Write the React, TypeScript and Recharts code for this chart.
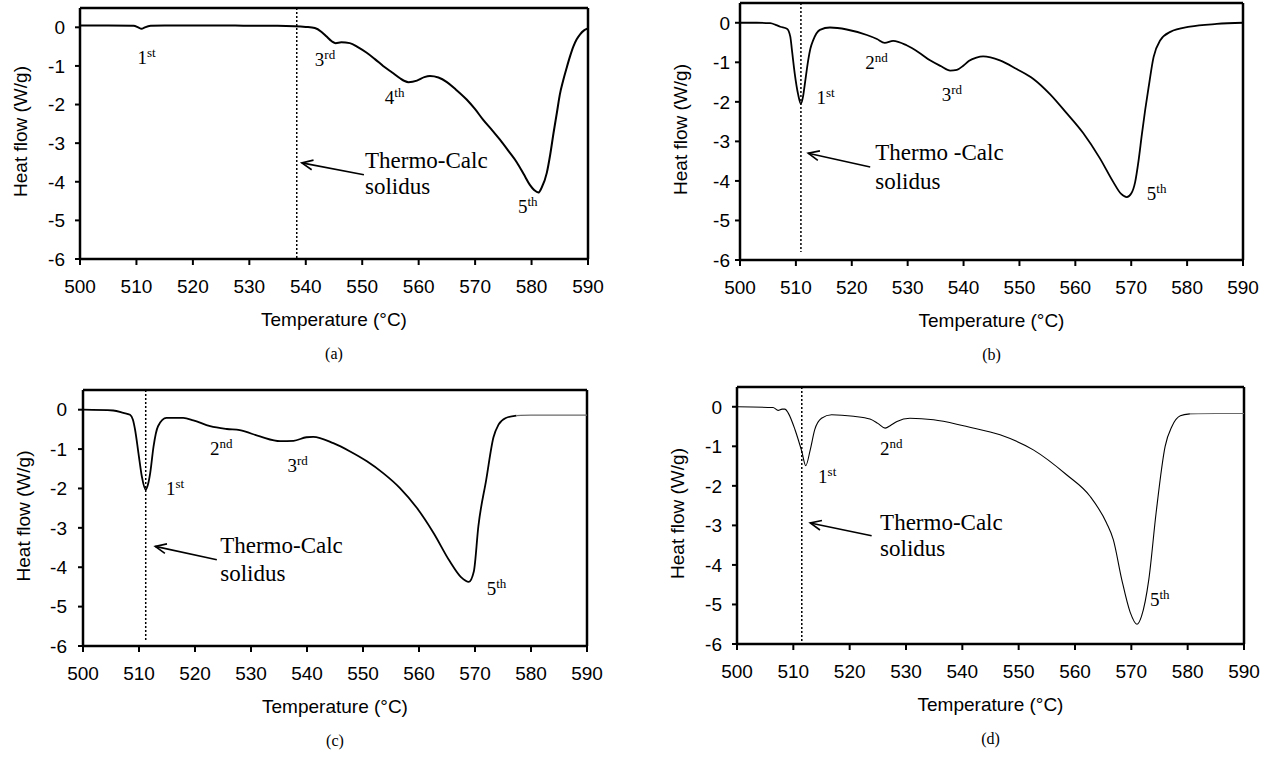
import React from 'react';
import { LineChart, Line, XAxis, YAxis, ReferenceLine, ReferenceDot } from 'recharts';

const tempTicks = [500, 510, 520, 530, 540, 550, 560, 570, 580, 590];
const flowTicks = [-6, -5, -4, -3, -2, -1, 0];

// Panel (a)
const tempA = [500, 505, 509.5, 510.3, 510.9, 511.5, 512.5, 515, 520, 525, 530, 535, 538, 540, 541.6, 542.8, 543.7, 544.6, 545.3, 546.3, 547.8, 549.3, 550.8, 552.3, 553.7, 555.3, 556.7, 557.5, 558.2, 559.7, 561, 562, 563.5, 565, 566.5, 568.5, 570, 571.4, 573, 574.4, 576, 577.4, 578.6, 579.7, 580.5, 581.2, 581.8, 582.7, 583.3, 583.9, 584.5, 585, 585.6, 586.2, 586.8, 587.4, 588, 588.6, 589.3, 590];
const flowA = [0.05, 0.05, 0.04, 0.0, -0.04, 0.0, 0.04, 0.05, 0.05, 0.05, 0.04, 0.04, 0.03, 0.01, -0.02, -0.12, -0.24, -0.36, -0.41, -0.39, -0.41, -0.52, -0.66, -0.83, -1.0, -1.17, -1.32, -1.39, -1.42, -1.38, -1.29, -1.26, -1.3, -1.42, -1.6, -1.87, -2.12, -2.39, -2.66, -2.91, -3.22, -3.5, -3.8, -4.08, -4.22, -4.28, -4.15, -3.77, -3.3, -2.73, -2.2, -1.75, -1.38, -1.06, -0.76, -0.5, -0.31, -0.18, -0.08, -0.03];

// Panel (b)
const tempB = [500, 503, 505.4, 506.5, 507.2, 508.4, 509, 509.3, 509.8, 510.4, 510.9, 511.3, 511.6, 512.2, 512.6, 513.1, 514.3, 516.1, 519.1, 522.7, 524.5, 525.9, 527.4, 529.8, 532, 534, 536, 537.6, 538.8, 540, 541, 542.3, 543.5, 546.5, 549.5, 552.5, 555.5, 558.4, 561.4, 564.4, 566.8, 568.2, 569.2, 570, 570.7, 571.3, 571.9, 572.5, 573.1, 574, 575.2, 577, 580.5, 585.3, 590];
const flowB = [0, 0, -0.01, -0.06, -0.1, -0.15, -0.35, -0.7, -1.29, -1.81, -2.05, -1.85, -1.55, -0.95, -0.65, -0.44, -0.18, -0.12, -0.17, -0.31, -0.41, -0.51, -0.46, -0.57, -0.75, -0.95, -1.1, -1.21, -1.19, -1.08, -0.96, -0.88, -0.85, -0.95, -1.17, -1.42, -1.81, -2.28, -2.79, -3.43, -4.03, -4.33, -4.41, -4.32, -4.03, -3.5, -2.83, -2.2, -1.64, -0.87, -0.44, -0.23, -0.1, -0.03, 0.0];

// Panel (c) main trace and flat grey tail
const tempC = [500, 505.4, 507.2, 508.4, 508.9, 509.3, 509.9, 510.5, 511.2, 511.6, 512, 512.6, 513.4, 514.9, 517.9, 519.7, 522.7, 525.7, 528, 531.6, 535.2, 537.6, 539.9, 541.1, 544.7, 547.7, 550.7, 553.6, 556.6, 559.6, 562.6, 565.5, 567.5, 568.9, 569.8, 570.6, 572, 573.3, 574.2, 575.5, 577.4];
const flowC = [0, -0.02, -0.08, -0.13, -0.25, -0.51, -1.1, -1.69, -2.03, -1.9, -1.61, -0.93, -0.42, -0.21, -0.21, -0.27, -0.42, -0.49, -0.52, -0.68, -0.8, -0.79, -0.7, -0.69, -0.85, -1.06, -1.31, -1.61, -1.99, -2.49, -3.13, -3.85, -4.25, -4.37, -4.1, -2.96, -1.78, -0.7, -0.38, -0.21, -0.15];
const tailTempC = [577.4, 580, 585, 590];
const tailFlowC = [-0.15, -0.14, -0.14, -0.14];

// Panel (d) main trace and flat grey tail
const tempD = [500, 506.4, 507.3, 508, 508.5, 509.1, 510.3, 511.5, 512.2, 513, 513.8, 515, 516.8, 520.7, 523.6, 525, 526.3, 527.3, 528.4, 530.7, 534.9, 539, 540.8, 546.7, 552.6, 558.5, 562.7, 565.6, 566.8, 568.3, 569.8, 571, 571.8, 573.1, 574.4, 576, 577.2, 578.7, 580.4];
const flowD = [0, -0.02, -0.09, -0.06, -0.06, -0.16, -0.58, -1.13, -1.49, -1.09, -0.58, -0.29, -0.2, -0.24, -0.31, -0.42, -0.54, -0.47, -0.37, -0.29, -0.33, -0.44, -0.5, -0.71, -1.09, -1.72, -2.27, -2.94, -3.36, -4.37, -5.2, -5.5, -5.3, -4.37, -2.68, -1.0, -0.5, -0.23, -0.18];
const tailTempD = [580.4, 585, 590];
const tailFlowD = [-0.18, -0.17, -0.17];

// Peak annotations (temperature, heat flow)
const peaksA = [
  { main: '1', sup: 'st', t: 510.2, v: -0.96 },
  { main: '3', sup: 'rd', t: 541.6, v: -1.0 },
  { main: '4', sup: 'th', t: 554.0, v: -1.99 },
  { main: '5', sup: 'th', t: 577.6, v: -4.8 },
];
const peaksB = [
  { main: '1', sup: 'st', t: 513.7, v: -2.06 },
  { main: '2', sup: 'nd', t: 522.4, v: -1.17 },
  { main: '3', sup: 'rd', t: 536.1, v: -1.98 },
  { main: '5', sup: 'th', t: 572.8, v: -4.48 },
];
const peaksC = [
  { main: '1', sup: 'st', t: 514.8, v: -2.16 },
  { main: '2', sup: 'nd', t: 522.7, v: -1.14 },
  { main: '3', sup: 'rd', t: 536.5, v: -1.57 },
  { main: '5', sup: 'th', t: 572.1, v: -4.7 },
];
const peaksD = [
  { main: '1', sup: 'st', t: 514.4, v: -1.93 },
  { main: '2', sup: 'nd', t: 525.4, v: -1.21 },
  { main: '5', sup: 'th', t: 573.3, v: -5.05 },
];

const SANS = '"Liberation Sans", Arial, Helvetica, sans-serif';
const SERIF = '"Liberation Serif", "Times New Roman", Times, serif';

type Cfg = {
  left: number; top: number; w: number; h: number;
  margin: { top: number; right: number; bottom: number; left: number };
  temps: number[]; flows: number[]; tailTemps: number[]; tailFlows: number[];
  solidusT: number; solidusBottom: number;
  peaks: { main: string; sup: string; t: number; v: number }[];
  calcText: string; calcT: number; calcV: number; solidusV: number;
  arrowHead: { t: number; v: number }; arrowTail: { t: number; v: number };
  caption: string; lineWidth: number; yTickMargin: number;
};

const panels: Cfg[] = [
  {
    left: 0, top: 0, w: 640, h: 380,
    margin: { top: 8, right: 52, bottom: 81, left: 20 },
    temps: tempA, flows: flowA, tailTemps: [], tailFlows: [], solidusT: 538.4, solidusBottom: -6,
    peaks: peaksA, calcText: 'Thermo-Calc', calcT: 550.5, calcV: -3.64, solidusV: -4.31,
    arrowHead: { t: 539.3, v: -3.51 }, arrowTail: { t: 550.3, v: -3.82 },
    caption: '(a)', lineWidth: 2, yTickMargin: 10,
  },
  {
    left: 640, top: 0, w: 631, h: 380,
    margin: { top: 3, right: 28, bottom: 80, left: 40 },
    temps: tempB, flows: flowB, tailTemps: [], tailFlows: [], solidusT: 510.9, solidusBottom: -5.8,
    peaks: peaksB, calcText: 'Thermo -Calc', calcT: 524.2, calcV: -3.47, solidusV: -4.2,
    arrowHead: { t: 512.2, v: -3.3 }, arrowTail: { t: 523.3, v: -3.65 },
    caption: '(b)', lineWidth: 1.8, yTickMargin: 5,
  },
  {
    left: 0, top: 380, w: 640, h: 377,
    margin: { top: 10, right: 53, bottom: 71, left: 23 },
    temps: tempC, flows: flowC, tailTemps: tailTempC, tailFlows: tailFlowC, solidusT: 511.2, solidusBottom: -5.9,
    peaks: peaksC, calcText: 'Thermo-Calc', calcT: 524.5, calcV: -3.64, solidusV: -4.34,
    arrowHead: { t: 512.9, v: -3.47 }, arrowTail: { t: 523.9, v: -3.81 },
    caption: '(c)', lineWidth: 1.8, yTickMargin: 11,
  },
  {
    left: 640, top: 380, w: 631, h: 377,
    margin: { top: 7, right: 27, bottom: 73, left: 37 },
    temps: tempD, flows: flowD, tailTemps: tailTempD, tailFlows: tailFlowD, solidusT: 511.5, solidusBottom: -6,
    peaks: peaksD, calcText: 'Thermo-Calc', calcT: 525.4, calcV: -3.11, solidusV: -3.78,
    arrowHead: { t: 513, v: -2.94 }, arrowTail: { t: 523.9, v: -3.26 },
    caption: '(d)', lineWidth: 1.1, yTickMargin: 10,
  },
];

const arrowShape = (p: any) => {
  const { x1, y1, x2, y2 } = p;
  let hx = x1, hy = y1, tx = x2, ty = y2;
  if (x2 < x1) { hx = x2; hy = y2; tx = x1; ty = y1; }
  const ang = Math.atan2(ty - hy, tx - hx);
  const L = 12, a = 0.42;
  const p1x = hx + L * Math.cos(ang + a), p1y = hy + L * Math.sin(ang + a);
  const p2x = hx + L * Math.cos(ang - a), p2y = hy + L * Math.sin(ang - a);
  return (
    <g>
      <line x1={tx} y1={ty} x2={hx} y2={hy} stroke="#000" strokeWidth={1.6} />
      <polyline points={`${p1x},${p1y} ${hx},${hy} ${p2x},${p2y}`} fill="none" stroke="#000" strokeWidth={1.6} />
    </g>
  );
};

const Panel = ({ cfg }: { cfg: Cfg }) => {
  const data: { t: number; v?: number; tail?: number }[] = cfg.temps.map((t, i) => ({ t, v: cfg.flows[i] }));
  cfg.tailTemps.forEach((t, i) => {
    const existing = data.find((d) => d.t === t);
    if (existing) existing.tail = cfg.tailFlows[i];
    else data.push({ t, tail: cfg.tailFlows[i] });
  });
  const xLabel = (props: any) => {
    const vb = props.viewBox || props;
    const cx = vb.x + vb.width / 2;
    return (
      <g>
        <text x={cx} y={vb.y + 67} textAnchor="middle" fontFamily={SANS} fontSize={19} fill="#000">Temperature (°C)</text>
        <text x={cx} y={vb.y + 100} textAnchor="middle" fontFamily={SERIF} fontSize={16} fill="#000">{cfg.caption}</text>
      </g>
    );
  };
  const yLabel = (props: any) => {
    const vb = props.viewBox || props;
    const px = vb.x + vb.width - 53;
    const py = vb.y + vb.height / 2 - 2;
    return (
      <text x={px} y={py} transform={`rotate(-90 ${px} ${py})`} textAnchor="middle" fontFamily={SANS} fontSize={19} fill="#000">Heat flow (W/g)</text>
    );
  };
  const peakShape = (pk: { main: string; sup: string }) => (p: any) => (
    <text x={p.cx} y={p.cy} fontFamily={SERIF} fontSize={19} fill="#000">
      {pk.main}
      <tspan dy={-7} fontSize={13}>{pk.sup}</tspan>
    </text>
  );
  const textShape = (s: string) => (p: any) => (
    <text x={p.cx} y={p.cy} fontFamily={SERIF} fontSize={23} fill="#000">{s}</text>
  );
  return (
    <div style={{ position: 'absolute', left: cfg.left, top: cfg.top }}>
      <LineChart width={cfg.w} height={cfg.h} data={data} margin={cfg.margin}>
        <XAxis
          dataKey="t" type="number" domain={[500, 590]} ticks={tempTicks} interval={0}
          allowDataOverflow height={40} tickSize={6} tickMargin={15}
          tick={{ fill: '#000', fontSize: 19, fontFamily: SANS }}
          axisLine={{ stroke: '#000', strokeWidth: 2.5 }}
          tickLine={{ stroke: '#000', strokeWidth: 2 }}
          label={xLabel}
        />
        <YAxis
          type="number" domain={[-6, 0.5]} ticks={flowTicks} interval={0}
          allowDataOverflow width={60} tickSize={5} tickMargin={cfg.yTickMargin}
          tick={{ fill: '#000', fontSize: 19, fontFamily: SANS }}
          axisLine={{ stroke: '#000', strokeWidth: 2.5 }}
          tickLine={{ stroke: '#000', strokeWidth: 2 }}
          label={yLabel}
        />
        <ReferenceLine y={0.5} stroke="#000" strokeWidth={2.5} />
        <ReferenceLine x={590} stroke="#000" strokeWidth={2.5} />
        <ReferenceLine
          segment={[{ x: cfg.solidusT, y: 0.5 }, { x: cfg.solidusT, y: cfg.solidusBottom }]}
          stroke="#000" strokeWidth={1.5} strokeDasharray="2 2"
        />
        <Line
          type="monotone" dataKey="v" stroke="#000" strokeWidth={cfg.lineWidth}
          dot={false} activeDot={false} isAnimationActive={false}
        />
        {cfg.tailTemps.length > 0 && (
          <Line
            type="monotone" dataKey="tail" stroke="#6a6a6a" strokeWidth={1.2}
            dot={false} activeDot={false} isAnimationActive={false}
          />
        )}
        <ReferenceLine
          segment={[{ x: cfg.arrowTail.t, y: cfg.arrowTail.v }, { x: cfg.arrowHead.t, y: cfg.arrowHead.v }]}
          shape={arrowShape}
        />
        {cfg.peaks.map((pk, i) => (
          <ReferenceDot key={i} x={pk.t} y={pk.v} r={0} shape={peakShape(pk)} />
        ))}
        <ReferenceDot x={cfg.calcT} y={cfg.calcV} r={0} shape={textShape(cfg.calcText)} />
        <ReferenceDot x={cfg.calcT} y={cfg.solidusV} r={0} shape={textShape('solidus')} />
      </LineChart>
    </div>
  );
}

export default function App() {
  return (
    <div style={{ position: 'absolute', left: 0, top: 0, width: 1271, height: 757, background: '#fff' }}>
      {panels.map((cfg, i) => (
        <Panel key={i} cfg={cfg} />
      ))}
    </div>
  );
}
